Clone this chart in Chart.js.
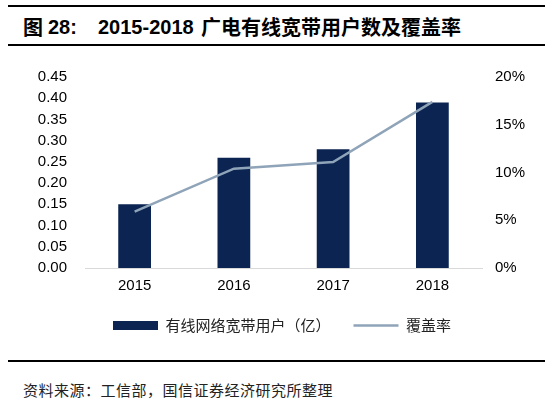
<!DOCTYPE html>
<html lang="zh">
<head>
<meta charset="UTF-8">
<title>2015-2018 广电有线宽带用户数及覆盖率</title>
<script src="https://cdn.jsdelivr.net/npm/chart.js@4.4.1/dist/chart.umd.min.js"></script>
<style>
  body { margin: 0; width: 554px; height: 402px; background: #fff; position: relative; overflow: hidden; }
  .rule { position: absolute; left: 8px; width: 537px; height: 0; border-top: 2px solid #000; z-index: 2; }
  .t { position: absolute; top: 15px; font: bold 20px/24px "Liberation Sans", Arial, sans-serif; color: #000; white-space: nowrap; }
  .t.cn { font-family: "Noto Sans CJK SC"; }
  #source { position: absolute; left: 23px; top: 380px; font: 15px/20px "Noto Sans CJK SC", sans-serif; letter-spacing: 0.5px; color: #222; white-space: nowrap; }
  .chart-container { position: absolute; left: 0; top: 55px; width: 554px; height: 288px; }
</style>
</head>
<body>
<div class="rule" style="top:5px"></div>
<span class="t cn" style="left:23px">图</span>
<span class="t" style="left:48px">28:</span>
<span class="t" style="left:98px">2015-2018</span>
<span class="t cn" style="left:201px">广电有线宽带用户数及覆盖率</span>
<div class="rule" style="top:44px"></div>
<div class="chart-container">
  <canvas id="chart"></canvas>
</div>
<div class="rule" style="top:360px"></div>
<div id="source">资料来源：工信部，国信证券经济研究所整理</div>
<script>
const years = ['2015', '2016', '2017', '2018']
const users = [0.15, 0.26, 0.28, 0.39]        // 有线网络宽带用户（亿）
const coverage = [5.9, 10.4, 11.1, 17.4]      // 覆盖率 %

// y axes: fixed width, and drop the label overhang padding so layout.padding.top rules
const fixY = w => s => { s.width = w; s.paddingTop = 0; s.paddingBottom = 0 }

const ctx = document.getElementById('chart').getContext('2d');
const myChart = new Chart(ctx, {
    type: 'bar',
    data: {
        labels: years,
        datasets: [{
            type: 'line',
            label: '覆盖率',
            data: coverage,
            yAxisID: 'y1',
            borderColor: '#8fa4b8',
            backgroundColor: '#8fa4b8',
            borderWidth: 2.5,
            pointRadius: 0,
            pointStyle: 'line',
            tension: 0,
            order: 0
        }, {
            label: '有线网络宽带用户（亿）',
            data: users,
            yAxisID: 'y',
            backgroundColor: '#0c2451',
            borderWidth: 0,
            pointStyle: 'rect',
            barPercentage: 0.33,
            categoryPercentage: 1,
            order: 1
        }]
    },
    options: {
        responsive: true,
        maintainAspectRatio: false,
        animation: false,
        layout: { padding: { top: 22, left: 10, right: 0, bottom: 0 } },
        plugins: {
            tooltip: { enabled: false },
            legend: {
                position: 'bottom',
                reverse: true,
                labels: {
                    usePointStyle: true,
                    pointStyleWidth: 45,
                    boxHeight: 9,
                    padding: 23,
                    color: '#222',
                    font: { family: 'Noto Sans CJK SC', size: 15 }
                }
            }
        },
        scales: {
            x: {
                grid: { display: false, drawTicks: false },
                border: { display: true, color: '#d9d9d9', width: 1 },
                ticks: { color: '#000', padding: 9, font: { family: 'Liberation Sans', size: 15 } },
                afterFit: s => { s.height = 27 }
            },
            y: {
                position: 'left',
                min: 0, max: 0.45,
                grid: { display: false, drawTicks: false },
                border: { display: false },
                ticks: {
                    stepSize: 0.05, autoSkip: false, padding: 18, color: '#000',
                    font: { family: 'Liberation Sans', size: 15 },
                    callback: v => v.toFixed(2)
                },
                afterFit: fixY(75)
            },
            y1: {
                position: 'right',
                min: 0, max: 20,
                grid: { display: false, drawTicks: false },
                border: { display: false },
                ticks: {
                    stepSize: 5, autoSkip: false, padding: 13, color: '#000',
                    font: { family: 'Liberation Sans', size: 15 },
                    callback: v => v + '%'
                },
                afterFit: fixY(72)
            }
        }
    }
});
</script>
</body>
</html>
